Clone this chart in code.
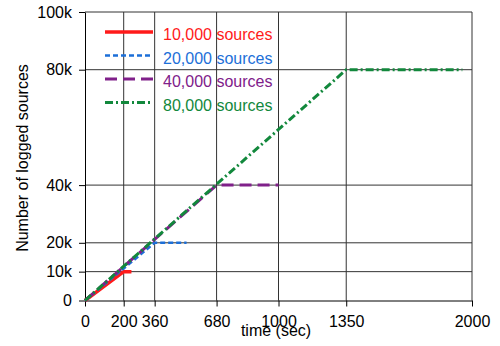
<!DOCTYPE html>
<html>
<head>
<meta charset="utf-8">
<script src="https://cdn.jsdelivr.net/npm/d3@7"></script>
<style>
  body { margin: 0; background: #fff; }
  text { font-family: "Liberation Sans", Arial, sans-serif; }
</style>
</head>
<body>
<div class="container_graph"></div>
<script>
const xTicks = [0, 200, 360, 680, 1000, 1350, 2000];
const yTicks = [0, 10000, 20000, 40000, 80000, 100000];
const yTickLabels = ["0", "10k", "20k", "40k", "80k", "100k"];

const seriesNames = ["10,000 sources", "20,000 sources", "40,000 sources", "80,000 sources"];
const times10k = [0, 200, 240];
const values10k = [0, 10000, 10000];
const times20k = [0, 360, 525];
const values20k = [0, 20000, 20000];
const times40k = [0, 680, 1000];
const values40k = [0, 40000, 40000];
const times80k = [0, 1350, 1950];
const values80k = [0, 80000, 80000];

const width = 500;
const height = 346;
const margin = { top: 12, right: 28, bottom: 45.5, left: 85 };

const styles = [
  { color: "#ff1a1a", width: 3.5, dash: null },
  { color: "#1c6fd8", width: 2.5, dash: "5,3" },
  { color: "#80208a", width: 3, dash: "12,6" },
  { color: "#12883c", width: 3, dash: "8,3,2,3" }
];

const series = [
  [times10k, values10k],
  [times20k, values20k],
  [times40k, values40k],
  [times80k, values80k]
].map(([t, v]) => t.map((d, i) => ({ t: d, v: v[i] })));

const svg = d3
  .select(".container_graph")
  .append("svg")
  .attr("width", width)
  .attr("height", height);

const x = d3
  .scaleLinear()
  .domain([0, 2000])
  .range([margin.left, width - margin.right]);

const y = d3
  .scaleLinear()
  .domain([0, 100000])
  .range([height - margin.bottom, margin.top]);

// grid
svg
  .append("g")
  .selectAll("line")
  .data(xTicks.slice(1))
  .enter()
  .append("line")
  .attr("x1", (d) => x(d))
  .attr("x2", (d) => x(d))
  .attr("y1", y(100000))
  .attr("y2", y(0))
  .attr("stroke", "#333")
  .attr("stroke-width", 1);

svg
  .append("g")
  .selectAll("line")
  .data(yTicks.slice(1))
  .enter()
  .append("line")
  .attr("x1", x(0))
  .attr("x2", x(2000))
  .attr("y1", (d) => y(d))
  .attr("y2", (d) => y(d))
  .attr("stroke", "#333")
  .attr("stroke-width", 1);

// axes
const xAxis = d3
  .axisBottom(x)
  .tickValues(xTicks)
  .tickFormat(d3.format("d"))
  .tickSize(6)
  .tickSizeOuter(0)
  .tickPadding(9);

const gx = svg
  .append("g")
  .attr("transform", `translate(0,${y(0)})`)
  .call(xAxis);
gx.selectAll("text").style("font-size", "16px").attr("fill", "#000");

const yAxis = d3
  .axisLeft(y)
  .tickValues(yTicks)
  .tickFormat((d, i) => yTickLabels[i])
  .tickSize(6)
  .tickSizeOuter(0)
  .tickPadding(7);

const gy = svg
  .append("g")
  .attr("transform", `translate(${x(0)},0)`)
  .call(yAxis);
gy.selectAll("text").style("font-size", "16px").attr("fill", "#000");

// lines
const line = d3
  .line()
  .x((d) => x(d.t))
  .y((d) => y(d.v));

series.forEach((s, i) => {
  svg
    .append("path")
    .datum(s)
    .attr("d", line)
    .attr("fill", "none")
    .attr("stroke", styles[i].color)
    .attr("stroke-width", styles[i].width)
    .attr("stroke-dasharray", styles[i].dash);
});

// legend
const legend = svg.append("g").attr("transform", "translate(105, 32)");
seriesNames.forEach((name, i) => {
  const item = legend.append("g").attr("transform", `translate(0, ${i * 23.5})`);
  item
    .append("line")
    .attr("x1", 0)
    .attr("x2", 48)
    .attr("y1", 0)
    .attr("y2", 0)
    .attr("stroke", styles[i].color)
    .attr("stroke-width", styles[i].width)
    .attr("stroke-dasharray", styles[i].dash);
  item
    .append("text")
    .attr("x", 58)
    .attr("y", 8)
    .attr("fill", styles[i].color)
    .style("font-size", "16px")
    .text(name);
});

// labels
svg
  .append("text")
  .attr("x", 276)
  .attr("y", 336)
  .attr("text-anchor", "middle")
  .style("font-size", "16px")
  .text("time (sec)");

svg
  .append("text")
  .attr("transform", `translate(28, 158) rotate(-90)`)
  .attr("text-anchor", "middle")
  .style("font-size", "16px")
  .text("Number of logged sources");
</script>
</body>
</html>
